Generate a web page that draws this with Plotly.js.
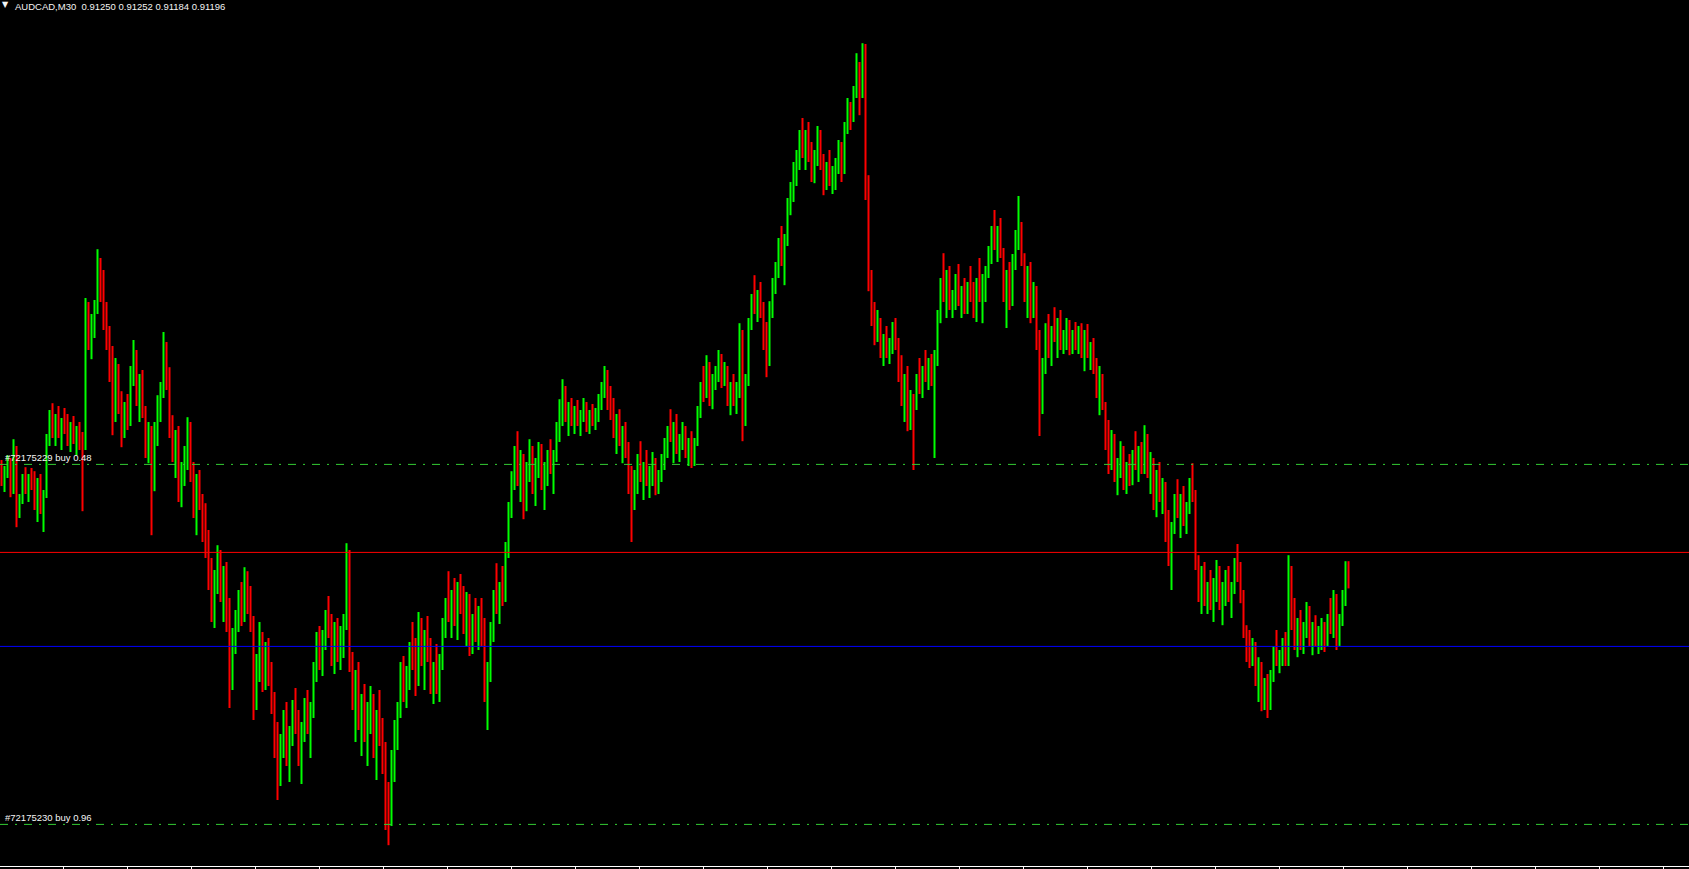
<!DOCTYPE html>
<html>
<head>
<meta charset="utf-8">
<script src="https://cdn.plot.ly/plotly-3.0.1.min.js"></script>
<style>
  html, body { margin: 0; padding: 0; background: #000; overflow: hidden; }
  #chart { width: 1689px; height: 869px; }
</style>
</head>
<body>
<div id="chart"></div>
<script>
// AUDCAD M30 quotes, in points above 0.90000 (1 point = 0.00001)
const SYMBOL = 'AUDCAD,M30';
const BASE = 0.9;
const POINT = 0.00001;

const op = [
1470,1450,1480,1500,1430,1530,1370,1410,1455,1440,
1462,1445,1400,1440,1385,1420,1555,1600,1575,1610,
1580,1595,1585,1560,1590,1560,1575,1545,1540,1870,
1800,1850,1890,1990,1930,1860,1800,1730,1620,1720,
1650,1580,1630,1600,1720,1760,1660,1700,1630,1540,
1580,1450,1580,1640,1680,1790,1700,1600,1530,1560,
1440,1470,1500,1590,1470,1400,1440,1400,1330,1290,
1210,1150,1200,1250,1180,1210,1120,950,1060,1100,
1150,1110,1220,1140,1090,900,1000,1070,960,1030,
970,900,790,700,800,860,770,820,880,850,
760,830,890,840,880,980,1050,1000,1060,1100,
1080,1020,1070,1030,1060,1090,1260,1000,920,960,
850,880,830,870,900,790,850,820,750,620,
600,760,820,880,970,930,960,1030,1000,950,
1090,1010,1050,1020,940,980,930,1000,1090,1140,
1130,1170,1110,1180,1150,1100,1150,1050,1100,1070,
1120,1060,940,980,1080,1160,1140,1180,1170,1280,
1380,1460,1510,1460,1500,1400,1480,1520,1440,1490,
1530,1450,1470,1510,1490,1520,1580,1610,1680,1620,
1630,1600,1625,1610,1620,1640,1590,1615,1600,1625,
1650,1690,1720,1650,1640,1580,1600,1550,1570,1530,
1450,1400,1460,1500,1470,1480,1460,1470,1500,1440,
1470,1510,1540,1580,1570,1590,1540,1560,1580,1530,
1545,1500,1550,1620,1690,1670,1740,1660,1700,1720,
1750,1700,1730,1660,1690,1650,1680,1820,1600,1700,
1840,1900,1890,1910,1880,1800,1760,1880,1940,1980,
2040,2010,2050,2140,2180,2230,2260,2300,2280,2310,
2270,2240,2260,2320,2250,2200,2230,2210,2225,2245,
2290,2230,2340,2380,2360,2430,2480,2420,2530,2200,
1960,1860,1820,1850,1780,1800,1775,1790,1830,1800,
1720,1680,1700,1610,1650,1640,1700,1690,1730,1720,
1745,1710,1760,1860,1940,1930,1960,1900,1920,1950,
1910,1930,1890,1940,1920,1900,1940,1930,1960,1980,
2020,2070,2050,2080,2020,1930,1960,1900,2000,2060,
2080,2000,1920,1970,1880,1930,1800,1650,1740,1820,
1790,1830,1810,1850,1800,1815,1840,1790,1820,1800,
1830,1780,1810,1770,1790,1740,1680,1700,1640,1560,
1520,1560,1470,1490,1530,1450,1480,1460,1510,1500,
1530,1480,1560,1480,1500,1420,1460,1420,1440,1330,
1300,1340,1400,1380,1400,1360,1390,1440,1420,1260,
1200,1220,1160,1190,1150,1180,1220,1150,1170,1210,
1160,1190,1240,1220,1170,1080,1060,1000,1040,960,
990,910,950,890,960,1020,1000,1010,1050,1000,
1220,1110,1060,1090,1050,1080,1130,1060,1080,1050,
1070,1090,1040,1110,1090,1150,1060,1110,1160,1250
];

const hi = [
1505,1490,1517,1510,1557,1540,1420,1470,1487,1470,
1485,1477,1460,1470,1430,1570,1630,1647,1620,1640,
1610,1635,1620,1600,1615,1590,1600,1575,1910,1900,
1870,1905,2032,2010,1980,1900,1840,1790,1760,1745,
1677,1650,1670,1740,1805,1780,1720,1730,1640,1600,
1590,1600,1667,1700,1825,1800,1737,1617,1580,1590,
1500,1540,1612,1600,1500,1470,1480,1420,1397,1330,
1260,1230,1292,1280,1240,1250,1160,1085,1130,1180,
1200,1237,1227,1190,1115,1020,1100,1075,1050,1060,
1000,925,850,820,880,900,840,905,935,880,
850,910,930,900,1000,1075,1090,1080,1130,1165,
1120,1100,1110,1090,1120,1297,1280,1025,980,1000,
920,945,900,940,920,880,930,860,800,700,
780,855,900,1000,1015,990,1050,1100,1060,1125,
1110,1080,1115,1060,1000,1045,1020,1110,1160,1227,
1180,1210,1200,1220,1190,1175,1170,1120,1160,1140,
1160,1110,1000,1100,1180,1247,1200,1240,1300,1400,
1477,1540,1577,1530,1520,1500,1557,1540,1510,1550,
1545,1500,1530,1557,1530,1600,1657,1707,1690,1650,
1660,1640,1655,1630,1660,1650,1630,1645,1635,1670,
1700,1740,1730,1690,1660,1620,1632,1590,1600,1550,
1490,1480,1520,1552,1500,1530,1490,1525,1510,1480,
1520,1560,1590,1632,1600,1620,1570,1600,1590,1560,
1577,1560,1640,1700,1740,1767,1750,1720,1740,1780,
1770,1750,1740,1700,1720,1700,1847,1830,1720,1860,
1920,1967,1930,1950,1900,1850,1902,1960,2000,2060,
2090,2070,2160,2200,2250,2280,2330,2360,2330,2350,
2300,2280,2340,2330,2270,2250,2280,2240,2260,2305,
2300,2350,2410,2400,2440,2522,2500,2547,2545,2217,
1980,1900,1880,1860,1820,1840,1810,1850,1860,1810,
1767,1720,1740,1680,1670,1720,1760,1740,1780,1760,
1770,1780,1880,1960,2022,1980,1990,1930,1970,1995,
1940,1960,1950,1990,1950,1960,2010,1970,1990,2040,
2090,2130,2090,2110,2035,1980,2000,2020,2080,2165,
2100,2022,1990,2000,1950,1940,1830,1760,1847,1870,
1840,1887,1860,1880,1830,1860,1855,1830,1850,1840,
1847,1830,1845,1800,1810,1760,1740,1720,1650,1605,
1580,1570,1510,1552,1540,1500,1520,1530,1577,1540,
1550,1592,1570,1525,1510,1480,1500,1460,1450,1380,
1350,1420,1457,1420,1440,1400,1460,1497,1430,1267,
1240,1250,1200,1230,1210,1255,1240,1200,1230,1240,
1200,1260,1295,1250,1180,1092,1080,1060,1050,1012,
1000,960,970,980,1040,1080,1030,1060,1075,1267,
1240,1160,1110,1130,1100,1150,1140,1100,1117,1090,
1110,1100,1120,1160,1180,1170,1120,1180,1252,1252
];

const lo = [
1440,1425,1460,1412,1420,1337,1360,1395,1420,1400,
1430,1380,1350,1370,1325,1410,1540,1560,1540,1560,
1530,1570,1540,1525,1545,1517,1530,1377,1530,1780,
1757,1810,1870,1900,1830,1780,1700,1567,1600,1620,
1537,1560,1580,1590,1690,1640,1600,1610,1510,1497,
1317,1427,1540,1600,1660,1680,1560,1500,1460,1400,
1387,1440,1480,1450,1360,1317,1380,1300,1260,1180,
1100,1085,1170,1150,1100,1075,885,930,1020,1075,
1090,1100,1120,1075,855,880,950,925,930,940,
870,760,655,690,760,740,700,790,820,740,
695,800,820,760,860,950,980,965,1030,1060,
990,970,1000,980,1010,1080,975,880,800,830,
765,800,740,820,760,705,790,720,580,542,
590,700,780,860,900,885,930,980,915,940,
990,930,1000,920,895,920,900,980,1060,1100,
1060,1090,1055,1120,1070,1040,1015,1020,1050,1030,
1040,900,830,950,1050,1120,1095,1140,1150,1260,
1360,1430,1440,1400,1357,1377,1450,1420,1390,1460,
1430,1380,1440,1470,1420,1500,1550,1590,1600,1565,
1590,1570,1590,1565,1600,1575,1570,1590,1580,1600,
1630,1660,1630,1605,1560,1520,1540,1497,1510,1420,
1300,1380,1420,1450,1405,1440,1410,1440,1417,1420,
1450,1480,1510,1550,1497,1520,1500,1530,1510,1490,
1485,1490,1540,1610,1650,1660,1640,1632,1680,1700,
1685,1690,1640,1617,1640,1620,1660,1552,1590,1690,
1830,1870,1850,1860,1780,1712,1740,1860,1920,1960,
1990,1942,2040,2117,2150,2190,2230,2260,2230,2250,
2200,2197,2240,2230,2167,2180,2190,2170,2180,2220,
2200,2220,2320,2330,2350,2410,2367,2410,2155,1927,
1840,1792,1800,1760,1740,1760,1745,1770,1780,1700,
1640,1600,1577,1580,1480,1630,1670,1660,1700,1680,
1690,1510,1740,1847,1900,1860,1880,1860,1880,1890,
1860,1870,1870,1900,1860,1850,1900,1847,1900,1960,
1995,2030,2000,2010,1900,1835,1880,1890,1980,2030,
1990,1900,1860,1847,1860,1780,1565,1620,1720,1760,
1740,1800,1760,1780,1770,1780,1767,1770,1780,1770,
1760,1727,1760,1730,1720,1660,1617,1630,1530,1470,
1480,1450,1417,1460,1430,1420,1440,1442,1480,1450,
1470,1470,1460,1420,1380,1362,1400,1370,1300,1240,
1180,1320,1360,1310,1340,1320,1370,1400,1230,1150,
1120,1140,1120,1130,1100,1150,1130,1092,1140,1150,
1110,1170,1200,1147,1060,1000,985,990,940,900,
877,880,860,880,950,990,972,990,990,990,
1080,1030,1012,1030,1020,1060,1040,1017,1040,1020,
1030,1025,1040,1070,1060,1030,1040,1090,1140,1184
];

const cl = [
1450,1480,1500,1430,1530,1370,1410,1455,1440,1462,
1445,1400,1440,1385,1420,1555,1600,1575,1610,1580,
1595,1585,1560,1590,1560,1575,1545,1540,1870,1800,
1850,1890,1990,1930,1860,1800,1730,1620,1720,1650,
1580,1630,1600,1720,1760,1660,1700,1630,1540,1580,
1450,1580,1640,1680,1790,1700,1600,1530,1560,1440,
1470,1500,1590,1470,1400,1440,1400,1330,1290,1210,
1150,1200,1250,1180,1210,1120,950,1060,1100,1150,
1110,1220,1140,1090,900,1000,1070,960,1030,970,
900,790,700,800,860,770,820,880,850,760,
830,890,840,880,980,1050,1000,1060,1100,1080,
1020,1070,1030,1060,1090,1260,1000,920,960,850,
880,830,870,900,790,850,820,750,620,600,
760,820,880,970,930,960,1030,1000,950,1090,
1010,1050,1020,940,980,930,1000,1090,1140,1130,
1170,1110,1180,1150,1100,1150,1050,1100,1070,1120,
1060,940,980,1080,1160,1140,1180,1170,1280,1380,
1460,1510,1460,1500,1400,1480,1520,1440,1490,1530,
1450,1470,1510,1490,1520,1580,1610,1680,1620,1630,
1600,1625,1610,1620,1640,1590,1615,1600,1625,1650,
1690,1720,1650,1640,1580,1600,1550,1570,1530,1450,
1400,1460,1500,1470,1480,1460,1470,1500,1440,1470,
1510,1540,1580,1570,1590,1540,1560,1580,1530,1545,
1500,1550,1620,1690,1670,1740,1660,1700,1720,1750,
1700,1730,1660,1690,1650,1680,1820,1600,1700,1840,
1900,1890,1910,1880,1800,1760,1880,1940,1980,2040,
2010,2050,2140,2180,2230,2260,2300,2280,2310,2270,
2240,2260,2320,2250,2200,2230,2210,2225,2245,2290,
2230,2340,2380,2360,2430,2480,2420,2530,2200,1960,
1860,1820,1850,1780,1800,1775,1790,1830,1800,1720,
1680,1700,1610,1650,1640,1700,1690,1730,1720,1745,
1710,1760,1860,1940,1930,1960,1900,1920,1950,1910,
1930,1890,1940,1920,1900,1940,1930,1960,1980,2020,
2070,2050,2080,2020,1930,1960,1900,2000,2060,2080,
2000,1920,1970,1880,1930,1800,1650,1740,1820,1790,
1830,1810,1850,1800,1815,1840,1790,1820,1800,1830,
1780,1810,1770,1790,1740,1680,1700,1640,1560,1520,
1560,1470,1490,1530,1450,1480,1460,1510,1500,1530,
1480,1560,1480,1500,1420,1460,1420,1440,1330,1300,
1340,1400,1380,1400,1360,1390,1440,1420,1260,1200,
1220,1160,1190,1150,1180,1220,1150,1170,1210,1160,
1190,1240,1220,1170,1080,1060,1000,1040,960,990,
910,950,890,960,1020,1000,1010,1050,1000,1220,
1110,1060,1090,1050,1080,1130,1060,1080,1050,1070,
1090,1040,1110,1090,1150,1060,1110,1160,1250,1196
];

// open orders and manual levels
const orderTickets = ['72175229', '72175230'];
const orderSides = ['buy', 'buy'];
const orderLots = ['0.48', '0.96'];
const orderLevels = [1494, 594];
const redLevel = 1274;
const blueLevel = 1039;

const toPrice = p => +(BASE + p * POINT).toFixed(5);
const barIndex = cl.map((_, i) => i);

const BULL = '#00ff00';
const BEAR = '#ff0000';
const ORDER_GREEN = '#33cc33';
const TEXT = '#f4f4f4';
const FONT = 'Liberation Sans, Arial, sans-serif';

const bars = {
  type: 'ohlc',
  x: barIndex,
  open: op.map(toPrice),
  high: hi.map(toPrice),
  low: lo.map(toPrice),
  close: cl.map(toPrice),
  tickwidth: 0,
  increasing: { line: { color: BULL, width: 2 } },
  decreasing: { line: { color: BEAR, width: 2 } },
  hoverinfo: 'skip',
  showlegend: false
};

const hline = (p, color, dash) => ({
  type: 'line', xref: 'paper', x0: 0, x1: 1, yref: 'y',
  y0: toPrice(p), y1: toPrice(p), layer: 'above',
  line: { color: color, width: 1, dash: dash }
});

const shapes = [
  hline(redLevel, '#ff0000', 'solid'),
  hline(blueLevel, '#0000ff', 'solid')
].concat(orderLevels.map(p => hline(p, ORDER_GREEN, '8px,7px,2px,7px')));

const last = cl.length - 1;
const quote = [op[last], hi[last], lo[last], cl[last]]
  .map(p => toPrice(p).toFixed(5)).join(' ');

const annotations = [
  {
    xref: 'paper', yref: 'paper', x: 0, y: 1, xanchor: 'left', yanchor: 'top',
    xshift: 0, yshift: 2, showarrow: false,
    text: '\u25BC', font: { family: 'DejaVu Sans, sans-serif', size: 8, color: TEXT }
  },
  {
    xref: 'paper', yref: 'paper', x: 0, y: 1, xanchor: 'left', yanchor: 'top',
    xshift: 13, yshift: 1, showarrow: false,
    text: SYMBOL + '\u00a0\u00a0' + quote,
    font: { family: FONT, size: 9.5, color: TEXT }
  }
].concat(orderLevels.map((p, k) => ({
  xref: 'paper', yref: 'y', x: 0, y: toPrice(p), xanchor: 'left', yanchor: 'bottom',
  xshift: 3, yshift: -1, showarrow: false,
  text: '#' + orderTickets[k] + ' ' + orderSides[k] + ' ' + orderLots[k],
  font: { family: FONT, size: 9.5, color: TEXT }
})));

const layout = {
  width: 1689, height: 869,
  margin: { l: 0, r: 0, t: 0, b: 3, pad: 0 },
  paper_bgcolor: '#000000',
  plot_bgcolor: '#000000',
  showlegend: false,
  hovermode: false,
  xaxis: {
    range: [-0.5, 562.5],
    rangeslider: { visible: false },
    showgrid: false, zeroline: false, showticklabels: false,
    ticks: 'outside', ticklen: 3, tickwidth: 1, tickcolor: '#ffffff',
    tickmode: 'linear', tick0: 20.6667, dtick: 21.3333,
    showline: true, linecolor: '#ffffff', linewidth: 1,
    fixedrange: true
  },
  yaxis: {
    range: [toPrice(490), toPrice(2655)],
    visible: false, showgrid: false, zeroline: false,
    fixedrange: true
  },
  shapes: shapes,
  annotations: annotations
};

Plotly.newPlot('chart', [bars], layout, { staticPlot: true, displayModeBar: false });
</script>
</body>
</html>
